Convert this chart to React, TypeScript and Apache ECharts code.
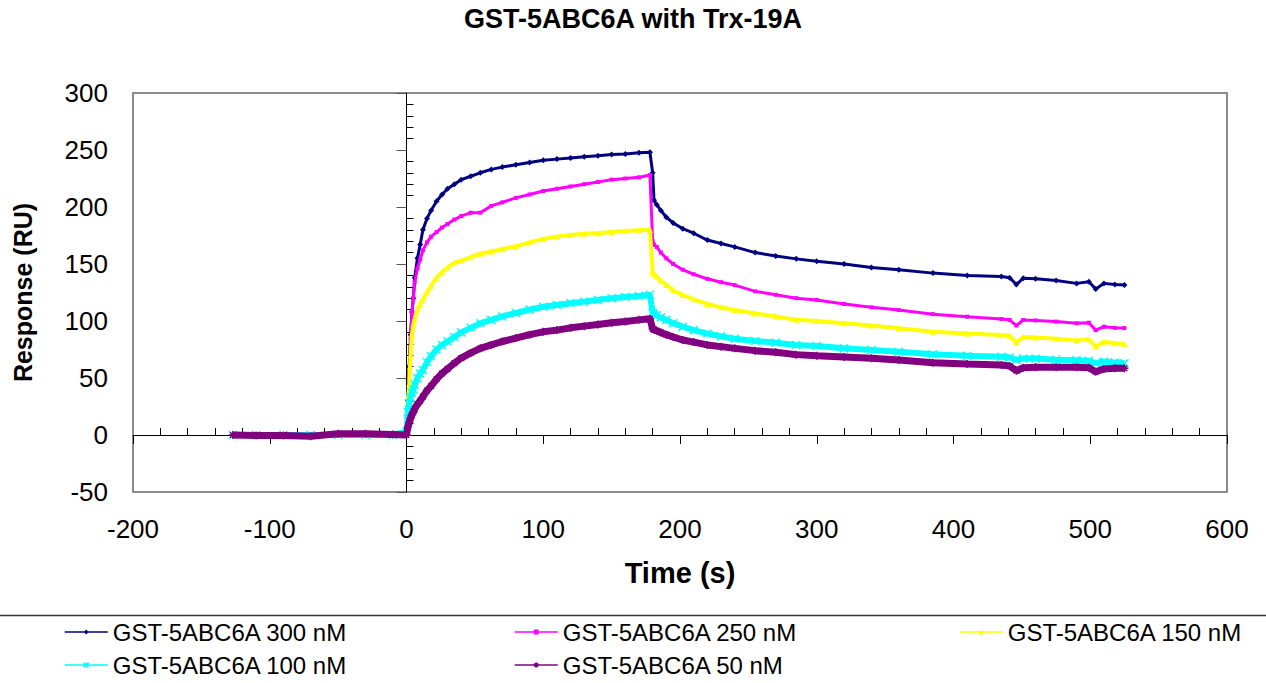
import React, { useEffect, useRef } from "react";
import * as echarts from "echarts";

const seriesNames = [
  "GST-5ABC6A 300 nM",
  "GST-5ABC6A 250 nM",
  "GST-5ABC6A 150 nM",
  "GST-5ABC6A 100 nM",
  "GST-5ABC6A 50 nM",
];

const xTicks = [-200, -100, 0, 100, 200, 300, 400, 500, 600];
const yTicks = [-50, 0, 50, 100, 150, 200, 250, 300];

const times = [
  -127, -110, -90, -70, -50, -30, -10, 0,
  1, 2, 3, 4, 5, 6, 8, 10, 12, 15,
  18, 22, 26, 30, 35, 40, 47, 54, 62, 70,
  80, 90, 100, 110, 120, 130, 140, 150, 160, 170,
  178, 180, 181, 183, 186, 190, 195, 202, 210, 220,
  230, 240, 255, 270, 285, 300, 320, 340, 360, 385,
  410, 435, 441, 446, 451, 460, 475, 490, 499, 504,
  510, 518, 525,
];

const r300 = [
  0, 0, -1, 0, 0, 0, 0, 0,
  30, 60, 88, 108, 120, 138, 155, 167, 180, 190,
  197, 205, 211, 216, 220, 224, 227, 230, 233, 235,
  237, 239, 241, 242, 243, 244, 245, 246, 246.5, 247.5,
  248, 230, 206, 202, 197, 191, 186, 181, 177, 171,
  168, 165, 160, 157, 154.5, 152.5, 150, 147, 145, 142,
  140, 139, 138, 132, 137.5, 137, 135.5, 133, 134.5, 128,
  133, 132, 131.5,
];

const r250 = [
  0, 0, 0, 0, 0.5, 0, 0, 0,
  25, 55, 85, 108, 120, 134, 146, 154, 162, 169,
  174, 178, 182, 185, 189, 192, 195, 195, 201, 204,
  208, 211, 214, 216, 218, 220, 222, 224, 225, 226,
  228, 170, 167, 165, 160, 155, 150, 145, 141, 137,
  134, 131.5, 126, 123, 120, 118.5, 115, 112, 109.6, 106,
  103.8, 101.7, 101, 96, 100.9, 100.5, 99.5, 98, 98.5, 92,
  95, 94, 93.8,
];

const r150 = [
  0, 0, 0, 0, 0, 0, 0, 2,
  30, 45, 70, 88, 97, 102, 110, 115, 119, 125,
  131, 138, 143, 147, 151, 153, 156, 159, 161, 163,
  165.5, 169, 172, 174, 175.5, 176.5, 177, 178, 179, 179.5,
  180, 143, 141, 139, 135, 131.6, 127, 122.8, 119, 115,
  112, 109.6, 106.5, 104, 101, 100, 98, 96, 93.6, 90.6,
  89, 87.7, 87, 81, 86, 85.5, 84.5, 83, 84, 77.5,
  81.8, 80.5, 79.8,
];

const r100 = [
  0, 0, 0, 0, 0, 0, 0, 3,
  20, 28, 33, 37, 40, 44, 50, 54, 57, 64,
  69, 75, 79, 82, 86, 90, 94, 98, 101, 104,
  107, 110, 112.5, 114, 115.5, 117, 118.5, 120, 121, 122,
  123, 107, 106, 105, 103, 101, 98, 95, 92, 89,
  86.5, 84.5, 82.5, 81, 79, 78, 76, 74.5, 73, 70.8,
  69.6, 68.7, 68, 66, 67, 67, 66, 65.5, 65, 63,
  64.5, 63.5, 63,
];

const r50 = [
  0, -0.5, -0.5, -1, 1, 1, 0.5, 0,
  7, 11, 15, 18, 20, 23, 27, 30, 33.6, 39,
  43, 49, 54, 58, 63, 67.5, 72, 76, 79, 82,
  85, 88, 90.5, 92, 94, 95.5, 97, 98.5, 99.5, 101,
  102, 93, 92.5, 91.5, 90, 88, 86, 83.3, 81.5, 79,
  77.5, 76, 74, 72.5, 70.5, 69.5, 68.5, 67.3, 65.8, 63.4,
  62.3, 61.4, 60.5, 56.4, 59, 59.4, 59.4, 59.4, 59, 55.5,
  58, 58.5, 58.5,
];

const seriesValues = [r300, r250, r150, r100, r50];
const colors = ["#000080", "#FF00FF", "#FFFF00", "#00FFFF", "#800080"];
const symbols = [
  "diamond",
  "rect",
  "triangle",
  "path://M0,0L10,10M10,0L0,10",
  "path://M0,5L10,5M5,0L5,10M1.5,1.5L8.5,8.5M8.5,1.5L1.5,8.5",
];
const symbolSizes = [6, 4, 6, 8, 8];
const lineWidths = [3, 3, 4, 6, 7];

const FONT = "'Liberation Sans', Arial, Helvetica, sans-serif";

export default function App() {
  const ref = useRef<HTMLDivElement>(null);

  useEffect(() => {
    if (!ref.current) return;
    const chart = echarts.init(ref.current, undefined, { renderer: "svg" });

    const series = seriesNames.map((name, i) => ({
      name,
      type: "line",
      xAxisIndex: 0,
      yAxisIndex: 0,
      data: times.map((t, j) => [t, seriesValues[i][j]]),
      symbol: symbols[i],
      symbolSize: symbolSizes[i],
      showSymbol: true,
      lineStyle: { color: colors[i], width: lineWidths[i] },
      itemStyle: {
        color: colors[i],
        borderColor: colors[i],
        borderWidth: i >= 3 ? 1.5 : 0,
      },
      emphasis: { disabled: true },
      z: 3 + i,
    }));

    const legendPos = [
      { left: 64, top: 620 },
      { left: 514, top: 620 },
      { left: 959, top: 620 },
      { left: 64, top: 653 },
      { left: 514, top: 653 },
    ];

    const legends = seriesNames.map((name, i) => ({
      data: [name],
      left: legendPos[i].left,
      top: legendPos[i].top,
      orient: "horizontal",
      padding: 0,
      itemWidth: 43,
      itemHeight: 6,
      itemGap: 0,
      selectedMode: false,
      textStyle: { fontSize: 24, fontFamily: FONT, color: "#000" },
      lineStyle: { width: 1.5 },
    }));

    chart.setOption({
      animation: false,
      backgroundColor: "#fff",
      title: {
        text: "GST-5ABC6A with Trx-19A",
        left: "center",
        top: 5,
        padding: 0,
        textStyle: {
          fontSize: 27,
          fontWeight: "bold",
          fontFamily: FONT,
          color: "#000",
        },
      },
      grid: {
        left: 133,
        right: 39,
        top: 93,
        bottom: 191,
        show: true,
        borderColor: "#8c8c8c",
        borderWidth: 2,
        backgroundColor: "#fff",
        containLabel: false,
      },
      legend: legends,
      xAxis: [
        {
          type: "value",
          min: xTicks[0],
          max: xTicks[xTicks.length - 1],
          interval: 100,
          position: "bottom",
          axisLine: { show: false, onZero: false },
          axisTick: { show: false },
          splitLine: { show: false },
          axisLabel: {
            fontSize: 26,
            fontFamily: FONT,
            color: "#000",
            margin: 24,
          },
          name: "Time (s)",
          nameLocation: "middle",
          nameGap: 66,
          nameTextStyle: {
            fontSize: 29,
            fontWeight: "bold",
            fontFamily: FONT,
            color: "#000",
          },
        },
        {
          type: "value",
          min: xTicks[0],
          max: xTicks[xTicks.length - 1],
          interval: 100,
          position: "bottom",
          axisLine: {
            show: true,
            onZero: true,
            onZeroAxisIndex: 0,
            lineStyle: { color: "#000", width: 1 },
          },
          axisTick: { show: true, length: 9, lineStyle: { color: "#000" } },
          minorTick: {
            show: true,
            splitNumber: 5,
            length: -7,
            lineStyle: { color: "#000" },
          },
          axisLabel: { show: false },
          splitLine: { show: false },
        },
      ],
      yAxis: [
        {
          type: "value",
          min: yTicks[0],
          max: yTicks[yTicks.length - 1],
          interval: 50,
          position: "left",
          axisLine: { show: false, onZero: false },
          axisTick: { show: false },
          splitLine: { show: false },
          axisLabel: {
            fontSize: 26,
            fontFamily: FONT,
            color: "#000",
            margin: 25,
          },
          name: "Response (RU)",
          nameLocation: "middle",
          nameGap: 98,
          nameTextStyle: {
            fontSize: 25,
            fontWeight: "bold",
            fontFamily: FONT,
            color: "#000",
          },
        },
        {
          type: "value",
          min: yTicks[0],
          max: yTicks[yTicks.length - 1],
          interval: 50,
          position: "left",
          axisLine: {
            show: true,
            onZero: true,
            onZeroAxisIndex: 0,
            lineStyle: { color: "#000", width: 1 },
          },
          axisTick: { show: true, length: 10, lineStyle: { color: "#555" } },
          minorTick: {
            show: true,
            splitNumber: 5,
            length: -7,
            lineStyle: { color: "#000" },
          },
          axisLabel: { show: false },
          splitLine: { show: false },
        },
      ],
      graphic: [
        {
          type: "line",
          shape: { x1: 0, y1: 615.5, x2: 1266, y2: 615.5 },
          style: { stroke: "#333", lineWidth: 1.5 },
          silent: true,
        },
      ],
      series,
    });

    return () => chart.dispose();
  }, []);

  return (
    <div
      ref={ref}
      style={{
        position: "absolute",
        left: 0,
        top: 0,
        width: 1266,
        height: 683,
        background: "#fff",
      }}
    />
  );
}
